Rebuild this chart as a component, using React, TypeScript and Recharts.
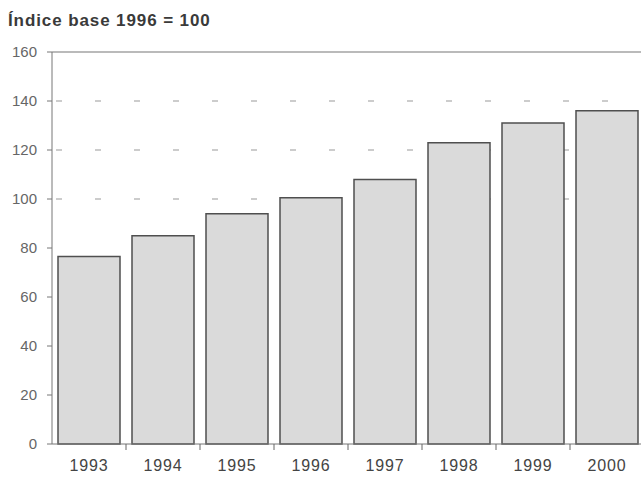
import { BarChart, Bar, XAxis, YAxis, CartesianGrid, ReferenceLine } from 'recharts';

const years = ['1993', '1994', '1995', '1996', '1997', '1998', '1999', '2000'];
const indexValues = [76.5, 85, 94, 100.5, 108, 123, 131, 136];
const yTicks = [0, 20, 40, 60, 80, 100, 120, 140, 160];
const dashedLevels = [100, 120, 140];

const data = years.map((year, i) => ({ year, value: indexValues[i] }));

const font = '"Liberation Sans", Arial, sans-serif';

function YearTick(props: any) {
  const { x, y, payload } = props;
  return (
    <g>
      <line x1={x + 37} x2={x + 37} y1={y - 8} y2={y - 2} stroke="#666" strokeWidth={1} />
      <text x={x} y={y + 19} textAnchor="middle" fill="#444" fontSize={16} letterSpacing={0.8} fontFamily={font}>
        {payload.value}
      </text>
    </g>
  );
}

export default function App() {
  return (
    <div style={{ position: 'absolute', left: 0, top: 0, width: 641, height: 480, overflow: 'hidden', background: '#fff' }}>
      <div
        style={{
          position: 'absolute',
          left: 8,
          top: 11,
          fontFamily: font,
          fontSize: 17,
          fontWeight: 600,
          letterSpacing: 0.9,
          color: '#3a3a3a',
        }}
      >
        Índice base 1996 = 100
      </div>
      <BarChart
        width={650}
        height={480}
        data={data}
        margin={{ top: 52, right: 6, bottom: 0, left: 0 }}
        barCategoryGap={6}
      >
        <CartesianGrid
          vertical={false}
          horizontalValues={dashedLevels}
          stroke="#999"
          strokeDasharray="6 33"
          strokeDashoffset={-4}
        />
        <ReferenceLine y={160} stroke="#777" strokeWidth={1.2} />
        <XAxis
          dataKey="year"
          height={36}
          axisLine={{ stroke: '#777' }}
          tickLine={false}
          tick={<YearTick />}
          interval={0}
        />
        <YAxis
          width={52}
          domain={[0, 160]}
          ticks={yTicks}
          axisLine={{ stroke: '#777' }}
          tickLine={{ stroke: '#777' }}
          tickSize={5}
          tickMargin={10}
          tick={{ fill: '#666', fontSize: 15, fontFamily: font }}
        />
        <Bar dataKey="value" fill="#dadada" stroke="#4f4f4f" strokeWidth={1.5} isAnimationActive={false} />
      </BarChart>
    </div>
  );
}
